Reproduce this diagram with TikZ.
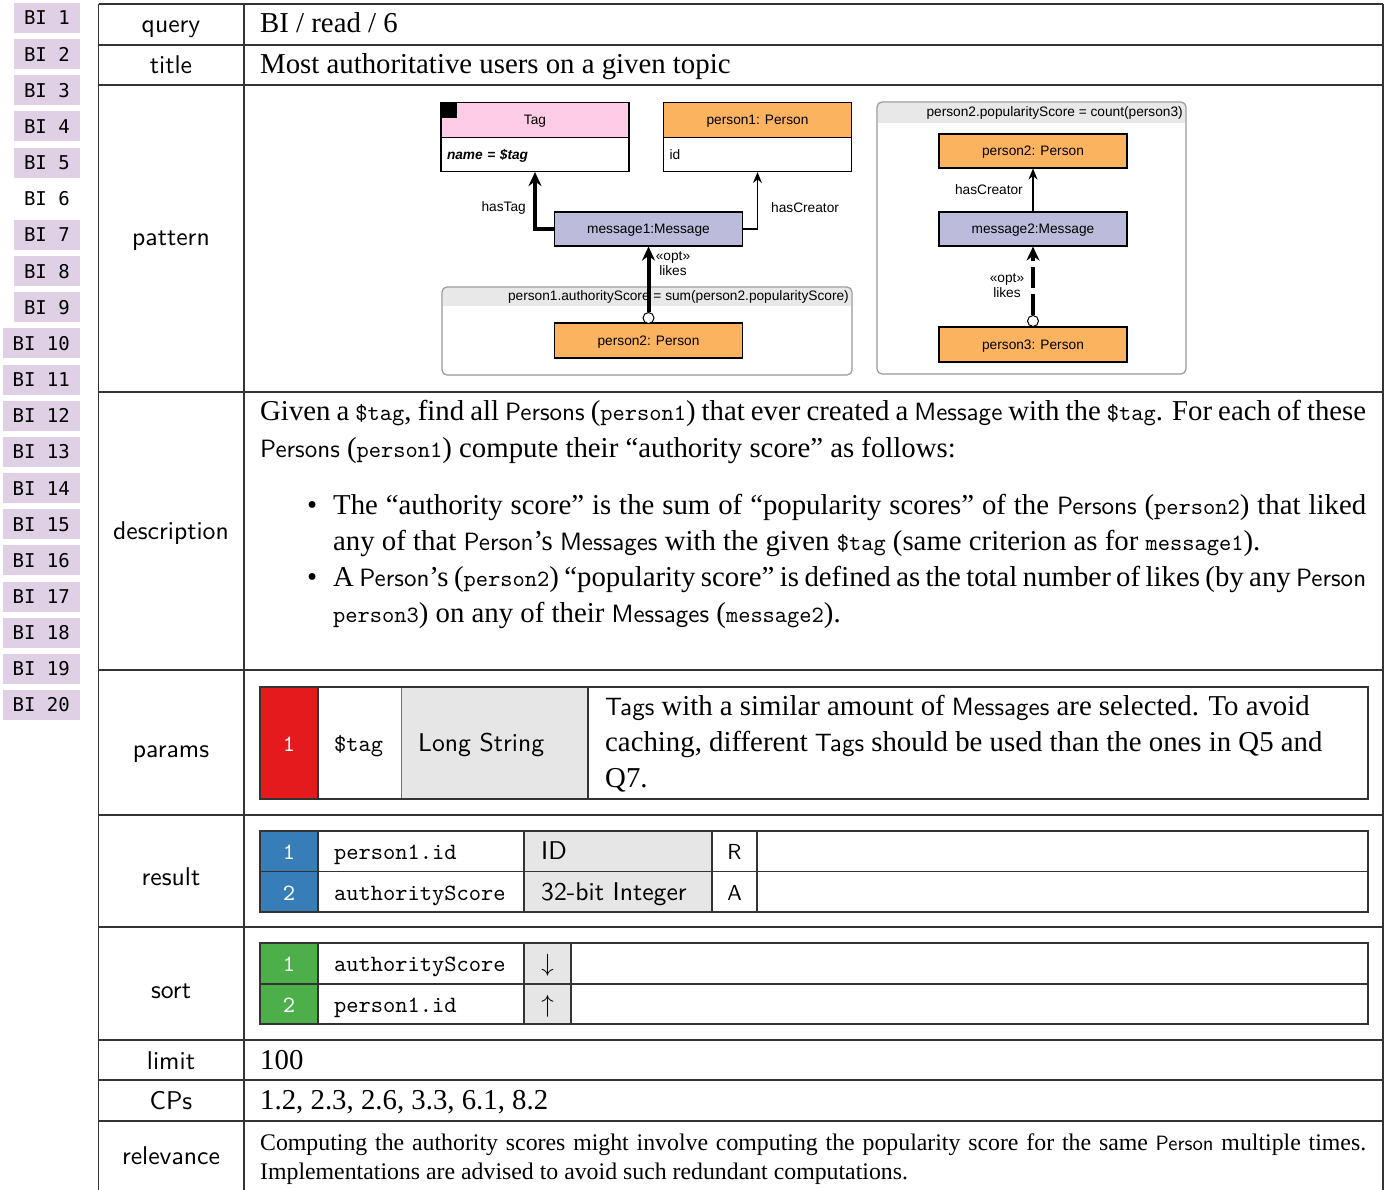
\documentclass[tikz,border=0pt]{standalone}
\usepackage{fontspec}
\setmainfont{Liberation Serif}
\setsansfont{lmsans10-regular.otf}[Scale=0.87]
\setmonofont{lmmono10-regular.otf}[Scale=0.81]
\newfontfamily\umlfont{Liberation Sans}
\newfontfamily\bifont{DejaVu Sans Mono}
\usepackage{tikz}
\usetikzlibrary{arrows.meta}

\definecolor{tagpink}{RGB}{255,204,229}
\definecolor{persorange}{RGB}{251,179,96}
\definecolor{msgpurple}{RGB}{189,187,219}
\definecolor{bililac}{RGB}{224,208,230}
\definecolor{numred}{RGB}{228,26,28}
\definecolor{numblue}{RGB}{55,126,184}
\definecolor{numgreen}{RGB}{77,175,74}
\definecolor{typegray}{RGB}{230,230,230}
\definecolor{grphead}{RGB}{232,232,232}

\newcommand{\mainsz}{\fontsize{28.8}{34}\selectfont}
\newcommand{\labsz}{\fontsize{29.5}{34}\selectfont\sffamily}
\newcommand{\umlsz}{\umlfont\fontsize{13.7}{15}\selectfont}
\newcommand{\tg}{\texttt{\$tag}}
\newcommand{\jline}[2]{\makebox[#1][s]{#2}}

\tikzstyle{bitab} = [anchor=east, fill=bililac, minimum height=30pt, inner xsep=10pt, inner ysep=0pt, font=\bifont\fontsize{19}{22}\selectfont]
\tikzstyle{bicur} = [bitab, fill=none]
\tikzstyle{rowlabel} = [anchor=base, inner sep=0pt, font=\labsz]
\tikzstyle{txt} = [anchor=base west, inner sep=0pt, font=\mainsz]
\tikzstyle{frame} = [draw=black!80, line width=1.3pt]
\tikzstyle{cellline} = [draw=black!55, line width=1pt]
\tikzstyle{umlbox} = [draw=black, line width=1.1pt, minimum width=188pt, minimum height=34pt, inner sep=0pt, text height=9.6pt, text depth=0pt, font=\umlsz]
\tikzstyle{taghead} = [umlbox, fill=tagpink]
\tikzstyle{perbox} = [umlbox, fill=persorange]
\tikzstyle{msgbox} = [umlbox, fill=msgpurple]
\tikzstyle{attrbox} = [umlbox, fill=white, text width=176pt, align=left, inner xsep=6pt]
\tikzstyle{grpbox} = [draw=black!40, line width=1.2pt, rounded corners=5pt, inner sep=0pt]
\tikzstyle{endcirc} = [circle, draw=black, fill=white, line width=1pt, minimum size=11pt, inner sep=0pt]
\tikzstyle{edgelabel} = [font=\umlsz, inner sep=0pt, align=center]
\tikzstyle{arrow} = [line width=1.2pt, -{Stealth[length=11pt,width=9pt]}]
\tikzstyle{thickarrow} = [line width=4pt, -{Stealth[length=14pt,width=13pt]}]
\tikzstyle{optarrow} = [thickarrow, dash pattern=on 21pt off 6pt]

\begin{document}
\begin{tikzpicture}[x=1pt, y=-1pt]

\fill[white] (0,0) rectangle (1384,1189);
\useasboundingbox (0,0) rectangle (1384,1189);

% query list on the left
\foreach \i in {1,...,20} {
  \ifnum\i=6 \def\bistyle{bicur}\else\def\bistyle{bitab}\fi
  \node[\bistyle] (bi\i) at (80,18+36.16*\i-36.16) {BI \i};
}

% main table
\foreach \y in {4,45,85,392,670,815,927,1040,1080,1121}
  \draw[frame] (98.5,\y) -- (1383,\y);
\draw[frame] (98.5,4) -- (98.5,1192);
\draw[frame] (244,4) -- (244,1192);
\draw[frame] (1383,4) -- (1383,1192);

\foreach \y/\t in {32/query, 73/title, 245/pattern, 539/description, 757/params,
                   885/result, 998/sort, 1069/limit, 1109/CPs, 1164/relevance}
  \node[rowlabel] (lbl-\t) at (171,\y) {\t};

\node[txt] (qval) at (260,32) {BI / read / 6};
\node[txt] (tval) at (260,73) {Most authoritative users on a given topic};

% pattern: left part
\fill[grphead] (443,288) rectangle (851,306);
\node[grpbox, minimum width=410pt, minimum height=88pt] (aggA) at (647,331) {};
\node[edgelabel, anchor=east] (aggAhead) at (849,296.5) {person1.authorityScore = sum(person2.popularityScore)};

\node[taghead, minimum height=35pt] (tag) at (535,120) {Tag};
\fill (441,102.5) rectangle (457,118);
\node[attrbox] (tagattr) at (535,154.5) {\textbf{\textit{name = \$tag}}};
\node[perbox, minimum height=35pt] (p1) at (757.5,120) {person1: Person};
\node[attrbox] (p1attr) at (757.5,154.5) {id};
\node[msgbox] (m1) at (648.5,229) {message1:Message};
\node[perbox, minimum height=35pt] (p2a) at (648.5,340.5) {person2: Person};
\node[endcirc] (lkA) at (648.5,318) {};

\draw[thickarrow] (m1.west) -| (tagattr.south);
\draw[arrow] (m1.east) -| (p1attr.south);
\draw[thickarrow] (lkA) -- (m1.south);
\node[edgelabel, anchor=east] (hastag) at (526,208) {hasTag};
\node[edgelabel, anchor=west] (hascr1) at (771,208) {hasCreator};
\node[edgelabel] (likes1) at (673,263.5) {«opt»\\likes};

% pattern: right part
\fill[grphead] (878,103) rectangle (1185,123);
\node[grpbox, minimum width=309pt, minimum height=272pt] (aggB) at (1031.5,238) {};
\node[edgelabel, anchor=east] (aggBhead) at (1183,113) {person2.popularityScore = count(person3)};

\node[perbox] (p2b) at (1033,151) {person2: Person};
\node[msgbox] (m2) at (1033,229) {message2:Message};
\node[perbox, minimum height=35pt] (p3) at (1033,344.5) {person3: Person};
\node[endcirc] (lkB) at (1033,321) {};

\draw[arrow] (m2.north) -- (p2b.south);
\draw[optarrow] (lkB) -- (m2.south);
\node[edgelabel, anchor=east] (hascr2) at (1023,190) {hasCreator};
\node[edgelabel] (likes2) at (1007,285.5) {«opt»\\likes};

% description
\node[txt] (d1) at (260,420) {\jline{1106pt}{Given a \tg, find all \textsf{Persons} (\texttt{person1}) that ever created a \textsf{Message} with the \tg. For each of these}};
\node[txt] (d2) at (260,457) {\textsf{Persons} (\texttt{person1}) compute their “authority score” as follows:};
\node[txt] (b1) at (307,514) {\textbullet};
\node[txt] (d3) at (333,514) {\jline{1033pt}{The “authority score” is the sum of “popularity scores” of the \textsf{Persons} (\texttt{person2}) that liked}};
\node[txt] (d4) at (333,550) {any of that \textsf{Person}’s \textsf{Messages} with the given \tg{} (same criterion as for \texttt{message1}).};
\node[txt] (b2) at (307,586) {\textbullet};
\node[txt] (d5) at (333,586) {\jline{1033pt}{A \textsf{Person}’s (\texttt{person2}) “popularity score” is defined as the total number of likes (by any \textsf{Person}}};
\node[txt] (d6) at (333,622) {\texttt{person3}) on any of their \textsf{Messages} (\texttt{message2}).};

% params
\fill[numred] (260,687) rectangle (318,799);
\fill[typegray] (401,687) rectangle (588,799);
\draw[cellline] (401,687) -- (401,799);
\draw[frame] (318,687) -- (318,799);
\draw[frame] (588,687) -- (588,799);
\draw[frame] (260,687) rectangle (1368,799);
\node[txt, anchor=base, text=white] (pnum) at (289,751) {\texttt{1}};
\node[txt] (pname) at (334,751) {\tg};
\node[txt, font=\labsz] (ptype) at (418,751) {Long String};
\node[txt] (pd1) at (605,715) {\textsf{Tags} with a similar amount of \textsf{Messages} are selected. To avoid};
\node[txt] (pd2) at (605,751) {caching, different \textsf{Tags} should be used than the ones in Q5 and};
\node[txt] (pd3) at (605,787) {Q7.};

% result
\fill[numblue] (260,831) rectangle (318,912);
\fill[typegray] (524,831) rectangle (712,912);
\draw[frame] (260,871.5) -- (1368,871.5);
\foreach \x in {318,524,712,757}
  \draw[frame] (\x,831) -- (\x,912);
\draw[frame] (260,831) rectangle (1368,912);
\foreach \y/\n/\f/\ty/\k in {859/1/person1.id/ID/R, 900/2/authorityScore/32-bit Integer/A} {
  \node[txt, anchor=base, text=white] (rnum\n) at (289,\y) {\texttt{\n}};
  \node[txt] (rname\n) at (334,\y) {\texttt{\f}};
  \node[txt, font=\labsz] (rtype\n) at (541,\y) {\ty};
  \node[txt, anchor=base, font=\fontsize{25}{30}\selectfont\sffamily] (rkind\n) at (734.5,\y) {\k};
}

% sort
\fill[numgreen] (260,943) rectangle (318,1024);
\fill[typegray] (524,943) rectangle (571,1024);
\draw[frame] (260,984) -- (1368,984);
\foreach \x in {318,524,571}
  \draw[frame] (\x,943) -- (\x,1024);
\draw[frame] (260,943) rectangle (1368,1024);
\foreach \y/\n/\f/\d in {971/1/authorityScore/\downarrow, 1012/2/person1.id/\uparrow} {
  \node[txt, anchor=base, text=white] (snum\n) at (289,\y) {\texttt{\n}};
  \node[txt] (sname\n) at (334,\y) {\texttt{\f}};
  \node[txt, anchor=base] (sdir\n) at (547.5,\y) {$\d$};
}

% limit, CPs, relevance
\node[txt] (lim) at (260,1069) {100};
\node[txt] (cps) at (260,1109) {1.2, 2.3, 2.6, 3.3, 6.1, 8.2};
\node[txt, font=\fontsize{23.8}{28}\selectfont] (rel1) at (260,1150) {\jline{1106pt}{Computing the authority scores might involve computing the popularity score for the same \textsf{Person} multiple times.}};
\node[txt, font=\fontsize{23.8}{28}\selectfont] (rel2) at (260,1179) {Implementations are advised to avoid such redundant computations.};

\end{tikzpicture}
\end{document}
